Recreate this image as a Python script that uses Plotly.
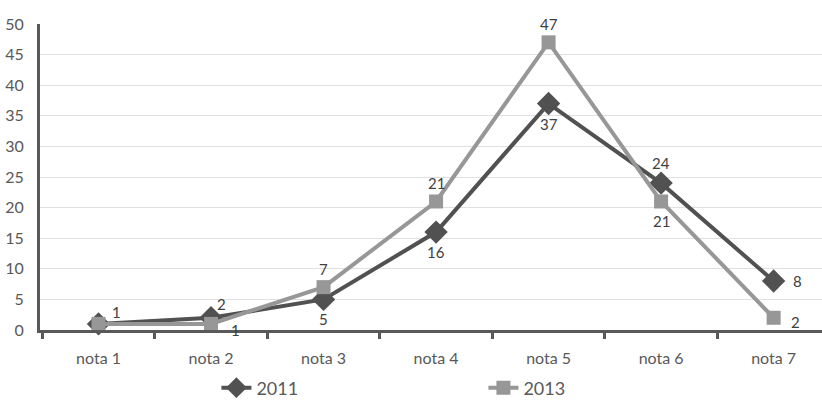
import plotly.graph_objects as go

# Grade categories and the counts for each year
notas = ["nota 1", "nota 2", "nota 3", "nota 4", "nota 5", "nota 6", "nota 7"]
valores_2011 = [1, 2, 5, 16, 37, 24, 8]
valores_2013 = [1, 1, 7, 21, 47, 21, 2]

# Pixel offsets (dx, dy) of each value label from its marker
desloc_2011 = [(18, -12), (10, -14), (0, 20), (0, 20), (0, 20), (0, -20), (24, 0)]
desloc_2013 = [None, (24, 6), (0, -18), (0, -18), (0, -18), (0, 20), (22, 4)]

FONT = "Lato, 'Open Sans', sans-serif"
TEXT = "#595959"
COR_2011 = "#515151"
COR_2013 = "#979797"

fig = go.Figure()
fig.add_trace(go.Scatter(
    x=notas, y=valores_2011, name="2011", mode="lines+markers",
    line=dict(color=COR_2011, width=4),
    marker=dict(symbol="diamond", size=18, color=COR_2011),
    cliponaxis=False,
))
fig.add_trace(go.Scatter(
    x=notas, y=valores_2013, name="2013", mode="lines+markers",
    line=dict(color=COR_2013, width=4),
    marker=dict(symbol="square", size=14, color=COR_2013),
    cliponaxis=False,
))

# Value labels; at nota 1 both years share the same value and one label
for valores, desloc in ((valores_2011, desloc_2011), (valores_2013, desloc_2013)):
    for nota, v, d in zip(notas, valores, desloc):
        if d is None:
            continue
        fig.add_annotation(
            x=nota, y=v, text=str(v), showarrow=False,
            xshift=d[0], yshift=-d[1],
            font=dict(family=FONT, size=15, color="#404040"),
        )

fig.update_layout(
    width=822, height=402,
    margin=dict(l=40, r=0, t=24, b=72, autoexpand=False),
    paper_bgcolor="white", plot_bgcolor="white",
    font=dict(family=FONT, size=16, color=TEXT),
    showlegend=True,
    legend=dict(
        orientation="h", x=0.2256, xanchor="left",
        yref="container", y=0.035, yanchor="middle",
        entrywidth=222, entrywidthmode="pixels",
        font=dict(family=FONT, size=18, color=TEXT),
        itemclick=False, itemdoubleclick=False,
    ),
)
fig.update_xaxes(
    type="category", range=[-0.52, 6.43],
    showline=True, linecolor="#595959", linewidth=3,
    ticks="outside", tickson="boundaries", ticklen=6, tickwidth=3,
    tickcolor="#595959", showgrid=False,
    tickfont=dict(family=FONT, size=16, color=TEXT),
    ticklabelstandoff=12,
)
fig.update_yaxes(
    range=[0, 50], dtick=5, tick0=0,
    showline=True, linecolor="#595959", linewidth=3,
    showgrid=True, gridcolor="#e0e0e0", gridwidth=1,
    zeroline=False, ticks="",
    tickfont=dict(family=FONT, size=16, color=TEXT),
    ticklabelstandoff=10,
)

fig.write_html("out.html")
